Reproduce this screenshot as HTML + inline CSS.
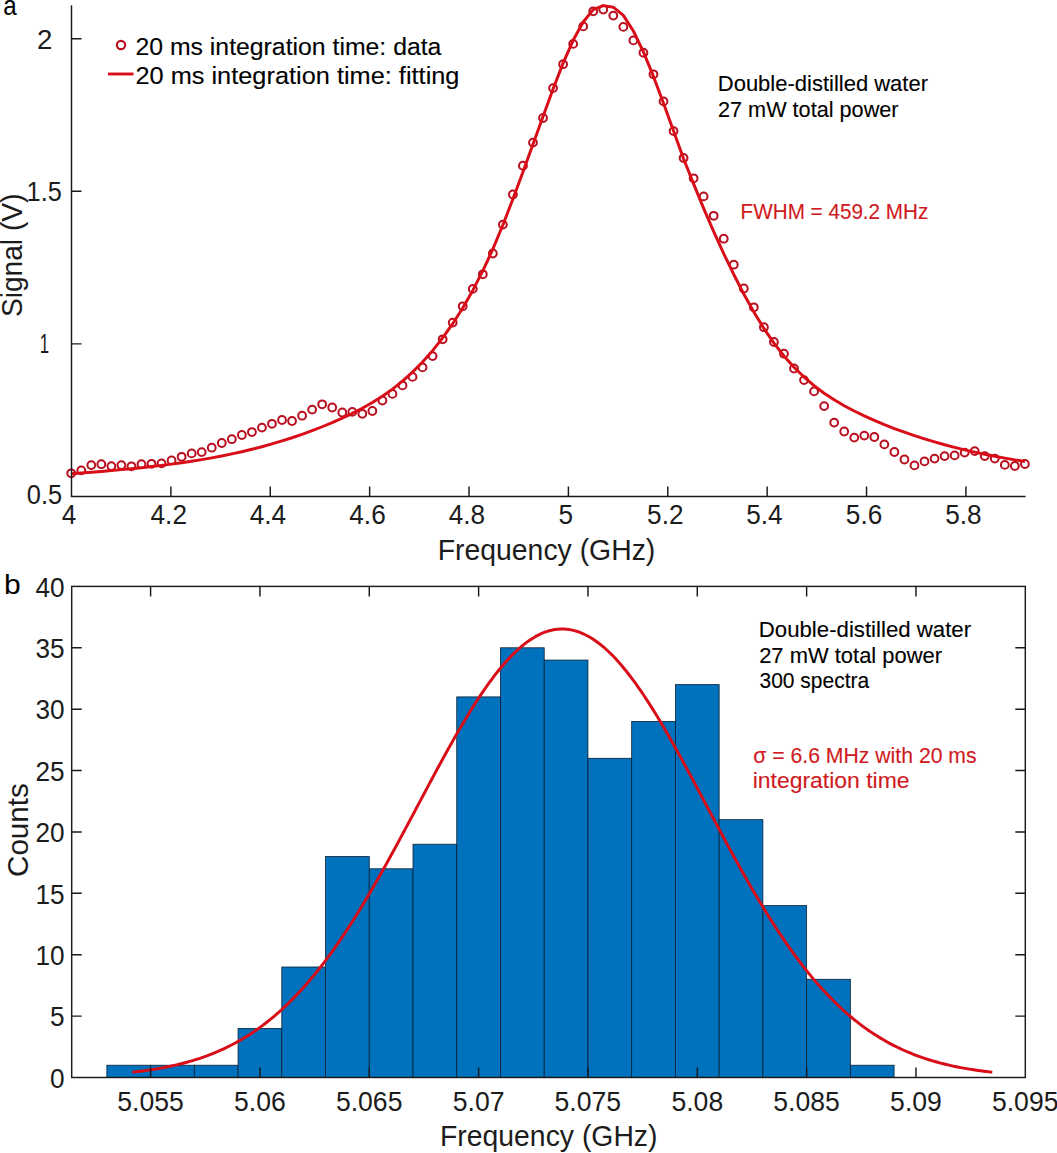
<!DOCTYPE html>
<html><head><meta charset="utf-8"><style>
html,body{margin:0;padding:0;background:#fff;}
svg{display:block;}
text{font-family:"Liberation Sans",sans-serif;}
</style></head><body>
<svg width="1057" height="1153" viewBox="0 0 1057 1153">
<rect width="1057" height="1153" fill="#fff"/>
<g fill="none" stroke="#B80E1E" stroke-width="2.0"><circle cx="71.20" cy="473.30" r="3.9"/><circle cx="81.24" cy="470.40" r="3.9"/><circle cx="91.28" cy="465.10" r="3.9"/><circle cx="101.32" cy="464.20" r="3.9"/><circle cx="111.36" cy="466.10" r="3.9"/><circle cx="121.39" cy="465.10" r="3.9"/><circle cx="131.43" cy="466.30" r="3.9"/><circle cx="141.47" cy="464.20" r="3.9"/><circle cx="151.51" cy="463.80" r="3.9"/><circle cx="161.55" cy="463.40" r="3.9"/><circle cx="171.59" cy="460.40" r="3.9"/><circle cx="181.63" cy="456.80" r="3.9"/><circle cx="191.67" cy="453.40" r="3.9"/><circle cx="201.71" cy="452.10" r="3.9"/><circle cx="211.75" cy="447.70" r="3.9"/><circle cx="221.78" cy="443.00" r="3.9"/><circle cx="231.82" cy="439.20" r="3.9"/><circle cx="241.86" cy="435.00" r="3.9"/><circle cx="251.90" cy="432.05" r="3.9"/><circle cx="261.94" cy="427.60" r="3.9"/><circle cx="271.98" cy="423.80" r="3.9"/><circle cx="282.02" cy="420.00" r="3.9"/><circle cx="292.06" cy="421.00" r="3.9"/><circle cx="302.10" cy="415.70" r="3.9"/><circle cx="312.13" cy="409.60" r="3.9"/><circle cx="322.17" cy="404.30" r="3.9"/><circle cx="332.21" cy="407.50" r="3.9"/><circle cx="342.25" cy="412.50" r="3.9"/><circle cx="352.29" cy="411.90" r="3.9"/><circle cx="362.33" cy="413.80" r="3.9"/><circle cx="372.37" cy="411.00" r="3.9"/><circle cx="382.41" cy="400.50" r="3.9"/><circle cx="392.45" cy="393.90" r="3.9"/><circle cx="402.49" cy="385.40" r="3.9"/><circle cx="412.52" cy="376.90" r="3.9"/><circle cx="422.56" cy="367.40" r="3.9"/><circle cx="432.60" cy="356.10" r="3.9"/><circle cx="442.64" cy="339.30" r="3.9"/><circle cx="452.68" cy="322.60" r="3.9"/><circle cx="462.72" cy="306.30" r="3.9"/><circle cx="472.76" cy="288.90" r="3.9"/><circle cx="482.80" cy="274.30" r="3.9"/><circle cx="492.84" cy="253.50" r="3.9"/><circle cx="502.87" cy="224.60" r="3.9"/><circle cx="512.91" cy="194.50" r="3.9"/><circle cx="522.95" cy="165.70" r="3.9"/><circle cx="532.99" cy="142.60" r="3.9"/><circle cx="543.03" cy="118.00" r="3.9"/><circle cx="553.07" cy="88.10" r="3.9"/><circle cx="563.11" cy="64.20" r="3.9"/><circle cx="573.15" cy="43.90" r="3.9"/><circle cx="583.19" cy="26.40" r="3.9"/><circle cx="593.23" cy="11.30" r="3.9"/><circle cx="603.26" cy="9.50" r="3.9"/><circle cx="613.30" cy="15.60" r="3.9"/><circle cx="623.34" cy="26.90" r="3.9"/><circle cx="633.38" cy="40.40" r="3.9"/><circle cx="643.42" cy="52.70" r="3.9"/><circle cx="653.46" cy="74.30" r="3.9"/><circle cx="663.50" cy="101.40" r="3.9"/><circle cx="673.54" cy="131.10" r="3.9"/><circle cx="683.58" cy="158.00" r="3.9"/><circle cx="693.61" cy="178.30" r="3.9"/><circle cx="703.65" cy="196.40" r="3.9"/><circle cx="713.69" cy="215.80" r="3.9"/><circle cx="723.73" cy="238.70" r="3.9"/><circle cx="733.77" cy="264.70" r="3.9"/><circle cx="743.81" cy="288.50" r="3.9"/><circle cx="753.85" cy="307.30" r="3.9"/><circle cx="763.89" cy="327.20" r="3.9"/><circle cx="773.93" cy="342.00" r="3.9"/><circle cx="783.97" cy="353.70" r="3.9"/><circle cx="794.00" cy="368.50" r="3.9"/><circle cx="804.04" cy="380.10" r="3.9"/><circle cx="814.08" cy="391.40" r="3.9"/><circle cx="824.12" cy="406.10" r="3.9"/><circle cx="834.16" cy="422.60" r="3.9"/><circle cx="844.20" cy="431.50" r="3.9"/><circle cx="854.24" cy="437.60" r="3.9"/><circle cx="864.28" cy="435.60" r="3.9"/><circle cx="874.32" cy="437.00" r="3.9"/><circle cx="884.35" cy="444.40" r="3.9"/><circle cx="894.39" cy="452.00" r="3.9"/><circle cx="904.43" cy="459.50" r="3.9"/><circle cx="914.47" cy="465.40" r="3.9"/><circle cx="924.51" cy="461.40" r="3.9"/><circle cx="934.55" cy="458.60" r="3.9"/><circle cx="944.59" cy="456.10" r="3.9"/><circle cx="954.63" cy="455.40" r="3.9"/><circle cx="964.67" cy="452.60" r="3.9"/><circle cx="974.71" cy="451.10" r="3.9"/><circle cx="984.74" cy="456.10" r="3.9"/><circle cx="994.78" cy="458.60" r="3.9"/><circle cx="1004.82" cy="464.90" r="3.9"/><circle cx="1014.86" cy="466.00" r="3.9"/><circle cx="1024.90" cy="464.00" r="3.9"/></g>
<polyline points="71.20,473.81 81.24,473.03 91.28,472.23 101.32,471.41 111.36,470.56 121.39,469.65 131.43,468.70 141.47,467.68 151.51,466.58 161.55,465.40 171.59,464.13 181.63,462.75 191.67,461.25 201.71,459.63 211.75,457.88 221.78,455.98 231.82,453.92 241.86,451.70 251.90,449.30 261.94,446.72 271.98,443.94 282.02,440.95 292.06,437.75 302.10,434.32 312.13,430.66 322.17,426.75 332.21,422.59 342.25,418.16 352.29,413.42 362.33,408.26 372.37,402.57 382.41,396.22 392.45,389.11 402.49,381.11 412.52,372.11 422.56,361.98 432.60,350.62 442.64,337.91 452.68,323.72 462.72,307.95 472.76,290.44 482.80,270.93 492.84,249.15 502.87,224.99 512.91,199.02 522.95,171.96 532.99,144.36 543.03,116.47 553.07,89.01 563.11,63.15 573.15,40.33 583.19,22.03 593.23,9.64 603.26,5.60 613.30,7.20 623.34,15.34 633.38,30.99 643.42,51.84 653.46,76.43 663.50,103.28 673.54,131.08 683.58,158.78 693.61,183.92 703.65,208.37 713.69,231.59 723.73,253.64 733.77,274.48 743.81,293.99 753.85,312.02 763.89,328.44 773.93,343.12 783.97,355.98 794.00,367.20 804.04,377.02 814.08,385.64 824.12,393.20 834.16,399.85 844.20,405.75 854.24,411.03 864.28,415.86 874.32,420.35 884.35,424.57 894.39,428.53 904.43,432.23 914.47,435.70 924.51,438.93 934.55,441.96 944.59,444.77 954.63,447.40 964.67,449.85 974.71,452.14 984.74,454.27 994.78,456.26 1004.82,458.12 1014.86,459.87 1024.90,461.51" fill="none" stroke="#D80D18" stroke-width="2.95" stroke-linejoin="round"/>
<path d="M71.50,5.2 V496.40 H1025.55" fill="none" stroke="#1a1a1a" stroke-width="1.45"/>
<path d="M170.88,496.4 v-10 M270.26,496.4 v-10 M369.64,496.4 v-10 M469.02,496.4 v-10 M568.40,496.4 v-10 M667.78,496.4 v-10 M767.16,496.4 v-10 M866.54,496.4 v-10 M965.92,496.4 v-10 M71.5,343.85 h10 M71.5,191.30 h10 M71.5,38.75 h10" stroke="#1a1a1a" stroke-width="1.45"/>
<text x="61.85" y="524.00" font-size="27" fill="#1c1c1c" textLength="14.57" lengthAdjust="spacingAndGlyphs">4</text>
<text x="150.56" y="524.00" font-size="27" fill="#1c1c1c" textLength="36.41" lengthAdjust="spacingAndGlyphs">4.2</text>
<text x="249.69" y="524.00" font-size="27" fill="#1c1c1c" textLength="36.41" lengthAdjust="spacingAndGlyphs">4.4</text>
<text x="349.32" y="524.00" font-size="27" fill="#1c1c1c" textLength="36.41" lengthAdjust="spacingAndGlyphs">4.6</text>
<text x="448.70" y="524.00" font-size="27" fill="#1c1c1c" textLength="36.41" lengthAdjust="spacingAndGlyphs">4.8</text>
<text x="558.50" y="524.00" font-size="27" fill="#1c1c1c" textLength="14.57" lengthAdjust="spacingAndGlyphs">5</text>
<text x="647.09" y="524.00" font-size="27" fill="#1c1c1c" textLength="36.41" lengthAdjust="spacingAndGlyphs">5.2</text>
<text x="746.23" y="524.00" font-size="27" fill="#1c1c1c" textLength="36.41" lengthAdjust="spacingAndGlyphs">5.4</text>
<text x="845.85" y="524.00" font-size="27" fill="#1c1c1c" textLength="36.41" lengthAdjust="spacingAndGlyphs">5.6</text>
<text x="945.23" y="524.00" font-size="27" fill="#1c1c1c" textLength="36.41" lengthAdjust="spacingAndGlyphs">5.8</text>
<text x="26.86" y="504.30" font-size="27" fill="#1c1c1c" textLength="35.31" lengthAdjust="spacingAndGlyphs">0.5</text>
<text x="26.62" y="201.20" font-size="27" fill="#1c1c1c" textLength="35.25" lengthAdjust="spacingAndGlyphs">1.5</text>
<text x="39.76" y="352.90" font-size="27" fill="#1c1c1c" textLength="9.33" lengthAdjust="spacingAndGlyphs">1</text>
<text x="37.02" y="48.90" font-size="27" fill="#1c1c1c" textLength="15.38" lengthAdjust="spacingAndGlyphs">2</text>
<text x="437.72" y="559.90" font-size="29.7" fill="#1c1c1c" textLength="217.59" lengthAdjust="spacingAndGlyphs">Frequency (GHz)</text>
<text transform="translate(21.60,317.12) rotate(-90)" x="0" y="0" font-size="29.7" fill="#1c1c1c" textLength="123.59" lengthAdjust="spacingAndGlyphs">Signal (V)</text>
<text x="3.32" y="14.60" font-size="28" fill="#000" textLength="13.44" lengthAdjust="spacingAndGlyphs">a</text>
<circle cx="121" cy="45.0" r="4.15" fill="none" stroke="#B80E1E" stroke-width="2.1"/>
<line x1="108" y1="74" x2="133.5" y2="74" stroke="#D80D18" stroke-width="2.9"/>
<text x="135.44" y="54.60" font-size="24.6" fill="#000" stroke="#000" stroke-width="0.12" textLength="305.95" lengthAdjust="spacingAndGlyphs">20 ms integration time: data</text>
<text x="135.41" y="83.50" font-size="24.6" fill="#000" stroke="#000" stroke-width="0.12" textLength="324.06" lengthAdjust="spacingAndGlyphs">20 ms integration time: fitting</text>
<text x="717.79" y="91.00" font-size="21.2" fill="#000" stroke="#000" stroke-width="0.12" textLength="210.22" lengthAdjust="spacingAndGlyphs">Double-distilled water</text>
<text x="717.98" y="116.70" font-size="21.2" fill="#000" stroke="#000" stroke-width="0.12" textLength="180.61" lengthAdjust="spacingAndGlyphs">27 mW total power</text>
<text x="740.60" y="218.60" font-size="21.2" fill="#D01A22" stroke="#D01A22" stroke-width="0.12" textLength="187.72" lengthAdjust="spacingAndGlyphs">FWHM = 459.2 MHz</text>
<g fill="#0072BD" stroke="#0a1f33" stroke-width="0.8"><rect x="106.87" y="1065.22" width="43.73" height="12.28"/><rect x="150.60" y="1065.22" width="43.73" height="12.28"/><rect x="194.33" y="1065.22" width="43.73" height="12.28"/><rect x="238.07" y="1028.39" width="43.73" height="49.11"/><rect x="281.81" y="967.00" width="43.73" height="110.50"/><rect x="325.54" y="856.50" width="43.73" height="221.00"/><rect x="369.27" y="868.78" width="43.73" height="208.72"/><rect x="413.01" y="844.23" width="43.73" height="233.27"/><rect x="456.75" y="696.90" width="43.73" height="380.60"/><rect x="500.48" y="647.79" width="43.73" height="429.71"/><rect x="544.21" y="660.07" width="43.73" height="417.43"/><rect x="587.95" y="758.29" width="43.73" height="319.21"/><rect x="631.69" y="721.45" width="43.73" height="356.05"/><rect x="675.42" y="684.62" width="43.73" height="392.88"/><rect x="719.15" y="819.67" width="43.73" height="257.83"/><rect x="762.89" y="905.62" width="43.73" height="171.88"/><rect x="806.63" y="979.28" width="43.73" height="98.22"/><rect x="850.36" y="1065.22" width="43.73" height="12.28"/></g>
<polyline points="132.23,1072.19 135.11,1071.87 137.98,1071.53 140.86,1071.17 143.74,1070.79 146.61,1070.39 149.49,1069.97 152.37,1069.53 155.24,1069.07 158.12,1068.59 161.00,1068.08 163.87,1067.54 166.75,1066.98 169.62,1066.39 172.50,1065.78 175.38,1065.13 178.25,1064.46 181.13,1063.75 184.01,1063.01 186.88,1062.23 189.76,1061.43 192.64,1060.58 195.51,1059.70 198.39,1058.78 201.27,1057.82 204.14,1056.82 207.02,1055.77 209.89,1054.68 212.77,1053.55 215.65,1052.37 218.52,1051.15 221.40,1049.87 224.28,1048.55 227.15,1047.17 230.03,1045.74 232.91,1044.26 235.78,1042.72 238.66,1041.12 241.54,1039.47 244.41,1037.75 247.29,1035.98 250.16,1034.14 253.04,1032.24 255.92,1030.28 258.79,1028.25 261.67,1026.15 264.55,1023.98 267.42,1021.75 270.30,1019.45 273.18,1017.07 276.05,1014.62 278.93,1012.10 281.81,1009.51 284.68,1006.84 287.56,1004.09 290.43,1001.27 293.31,998.37 296.19,995.40 299.06,992.34 301.94,989.21 304.82,986.00 307.69,982.70 310.57,979.33 313.45,975.88 316.32,972.35 319.20,968.75 322.07,965.06 324.95,961.29 327.83,957.44 330.70,953.52 333.58,949.52 336.46,945.44 339.33,941.29 342.21,937.06 345.09,932.76 347.96,928.38 350.84,923.94 353.72,919.42 356.59,914.84 359.47,910.19 362.34,905.47 365.22,900.70 368.10,895.86 370.97,890.96 373.85,886.01 376.73,881.01 379.60,875.95 382.48,870.85 385.36,865.70 388.23,860.50 391.11,855.27 393.99,850.01 396.86,844.71 399.74,839.38 402.61,834.03 405.49,828.66 408.37,823.27 411.24,817.86 414.12,812.45 417.00,807.03 419.87,801.61 422.75,796.19 425.63,790.78 428.50,785.38 431.38,780.00 434.26,774.63 437.13,769.30 440.01,763.99 442.88,758.73 445.76,753.50 448.64,748.31 451.51,743.18 454.39,738.10 457.27,733.08 460.14,728.12 463.02,723.24 465.90,718.43 468.77,713.70 471.65,709.05 474.52,704.49 477.40,700.02 480.28,695.65 483.15,691.39 486.03,687.23 488.91,683.19 491.78,679.26 494.66,675.45 497.54,671.77 500.41,668.21 503.29,664.79 506.17,661.50 509.04,658.36 511.92,655.36 514.79,652.50 517.67,649.80 520.55,647.25 523.42,644.86 526.30,642.62 529.18,640.55 532.05,638.65 534.93,636.91 537.81,635.34 540.68,633.94 543.56,632.71 546.44,631.65 549.31,630.77 552.19,630.07 555.06,629.54 557.94,629.19 560.82,629.02 563.69,629.03 566.57,629.21 569.45,629.58 572.32,630.12 575.20,630.83 578.08,631.73 580.95,632.79 583.83,634.04 586.71,635.45 589.58,637.03 592.46,638.79 595.33,640.71 598.21,642.79 601.09,645.03 603.96,647.44 606.84,650.00 609.72,652.72 612.59,655.58 615.47,658.59 618.35,661.75 621.22,665.04 624.10,668.48 626.98,672.04 629.85,675.73 632.73,679.55 635.60,683.49 638.48,687.54 641.36,691.71 644.23,695.98 647.11,700.36 649.99,704.83 652.86,709.40 655.74,714.05 658.62,718.79 661.49,723.61 664.37,728.50 667.24,733.46 670.12,738.48 673.00,743.57 675.87,748.71 678.75,753.89 681.63,759.13 684.50,764.40 687.38,769.70 690.26,775.04 693.13,780.40 696.01,785.79 698.89,791.19 701.76,796.60 704.64,802.02 707.51,807.44 710.39,812.86 713.27,818.27 716.14,823.68 719.02,829.07 721.90,834.44 724.77,839.79 727.65,845.11 730.53,850.41 733.40,855.67 736.28,860.90 739.16,866.09 742.03,871.23 744.91,876.34 747.78,881.39 750.66,886.39 753.54,891.34 756.41,896.23 759.29,901.06 762.17,905.83 765.04,910.54 767.92,915.19 770.80,919.77 773.67,924.28 776.55,928.72 779.43,933.09 782.30,937.38 785.18,941.61 788.05,945.75 790.93,949.83 793.81,953.82 796.68,957.74 799.56,961.58 802.44,965.34 805.31,969.02 808.19,972.63 811.07,976.15 813.94,979.59 816.82,982.96 819.70,986.24 822.57,989.45 825.45,992.58 828.32,995.62 831.20,998.59 834.08,1001.49 836.95,1004.30 839.83,1007.04 842.71,1009.71 845.58,1012.30 848.46,1014.81 851.34,1017.25 854.21,1019.62 857.09,1021.92 859.96,1024.15 862.84,1026.31 865.72,1028.40 868.59,1030.43 871.47,1032.39 874.35,1034.28 877.22,1036.11 880.10,1037.88 882.98,1039.59 885.85,1041.24 888.73,1042.84 891.61,1044.37 894.48,1045.85 897.36,1047.28 900.23,1048.65 903.11,1049.97 905.99,1051.24 908.86,1052.46 911.74,1053.64 914.62,1054.77 917.49,1055.85 920.37,1056.89 923.25,1057.89 926.12,1058.85 929.00,1059.77 931.88,1060.65 934.75,1061.49 937.63,1062.29 940.50,1063.07 943.38,1063.80 946.26,1064.51 949.13,1065.18 952.01,1065.83 954.89,1066.44 957.76,1067.03 960.64,1067.58 963.52,1068.12 966.39,1068.62 969.27,1069.11 972.15,1069.57 975.02,1070.01 977.90,1070.42 980.77,1070.82 983.65,1071.20 986.53,1071.55 989.40,1071.89 992.28,1072.22" fill="none" stroke="#D80D18" stroke-width="2.95" stroke-linejoin="round"/>
<rect x="71.7" y="586.4" width="953.60" height="491.10" fill="none" stroke="#1a1a1a" stroke-width="1.45"/>
<path d="M150.60,1077.5 v-10 M150.60,586.4 v10 M259.94,1077.5 v-10 M259.94,586.4 v10 M369.28,1077.5 v-10 M369.28,586.4 v10 M478.61,1077.5 v-10 M478.61,586.4 v10 M587.95,1077.5 v-10 M587.95,586.4 v10 M697.29,1077.5 v-10 M697.29,586.4 v10 M806.63,1077.5 v-10 M806.63,586.4 v10 M915.96,1077.5 v-10 M915.96,586.4 v10 M71.7,1016.11 h10 M1025.3,1016.11 h-10 M71.7,954.73 h10 M1025.3,954.73 h-10 M71.7,893.34 h10 M1025.3,893.34 h-10 M71.7,831.95 h10 M1025.3,831.95 h-10 M71.7,770.56 h10 M1025.3,770.56 h-10 M71.7,709.17 h10 M1025.3,709.17 h-10 M71.7,647.79 h10 M1025.3,647.79 h-10" stroke="#1a1a1a" stroke-width="1.45"/>
<text x="117.23" y="1110.50" font-size="27" fill="#1c1c1c" textLength="66.55" lengthAdjust="spacingAndGlyphs">5.055</text>
<text x="234.08" y="1110.50" font-size="27" fill="#1c1c1c" textLength="51.76" lengthAdjust="spacingAndGlyphs">5.06</text>
<text x="335.91" y="1110.50" font-size="27" fill="#1c1c1c" textLength="66.55" lengthAdjust="spacingAndGlyphs">5.065</text>
<text x="452.76" y="1110.50" font-size="27" fill="#1c1c1c" textLength="51.76" lengthAdjust="spacingAndGlyphs">5.07</text>
<text x="554.58" y="1110.50" font-size="27" fill="#1c1c1c" textLength="66.55" lengthAdjust="spacingAndGlyphs">5.075</text>
<text x="671.43" y="1110.50" font-size="27" fill="#1c1c1c" textLength="51.76" lengthAdjust="spacingAndGlyphs">5.08</text>
<text x="773.26" y="1110.50" font-size="27" fill="#1c1c1c" textLength="66.55" lengthAdjust="spacingAndGlyphs">5.085</text>
<text x="890.11" y="1110.50" font-size="27" fill="#1c1c1c" textLength="51.76" lengthAdjust="spacingAndGlyphs">5.09</text>
<text x="991.93" y="1110.50" font-size="27" fill="#1c1c1c" textLength="66.55" lengthAdjust="spacingAndGlyphs">5.095</text>
<text x="50.02" y="1087.80" font-size="27" fill="#1c1c1c" textLength="14.57" lengthAdjust="spacingAndGlyphs">0</text>
<text x="50.02" y="1026.41" font-size="27" fill="#1c1c1c" textLength="14.57" lengthAdjust="spacingAndGlyphs">5</text>
<text x="35.47" y="965.02" font-size="27" fill="#1c1c1c" textLength="29.13" lengthAdjust="spacingAndGlyphs">10</text>
<text x="35.47" y="903.64" font-size="27" fill="#1c1c1c" textLength="29.13" lengthAdjust="spacingAndGlyphs">15</text>
<text x="35.47" y="842.25" font-size="27" fill="#1c1c1c" textLength="29.13" lengthAdjust="spacingAndGlyphs">20</text>
<text x="35.47" y="780.86" font-size="27" fill="#1c1c1c" textLength="29.13" lengthAdjust="spacingAndGlyphs">25</text>
<text x="35.47" y="719.47" font-size="27" fill="#1c1c1c" textLength="29.13" lengthAdjust="spacingAndGlyphs">30</text>
<text x="35.47" y="658.09" font-size="27" fill="#1c1c1c" textLength="29.13" lengthAdjust="spacingAndGlyphs">35</text>
<text x="35.47" y="596.70" font-size="27" fill="#1c1c1c" textLength="29.13" lengthAdjust="spacingAndGlyphs">40</text>
<text x="440.02" y="1145.90" font-size="29.7" fill="#1c1c1c" textLength="217.49" lengthAdjust="spacingAndGlyphs">Frequency (GHz)</text>
<text transform="translate(27.80,876.89) rotate(-90)" x="0" y="0" font-size="29.7" fill="#1c1c1c" textLength="93.60" lengthAdjust="spacingAndGlyphs">Counts</text>
<text x="4.12" y="594.00" font-size="28" fill="#000" textLength="16.73" lengthAdjust="spacingAndGlyphs">b</text>
<text x="758.77" y="636.80" font-size="21.2" fill="#000" stroke="#000" stroke-width="0.12" textLength="212.34" lengthAdjust="spacingAndGlyphs">Double-distilled water</text>
<text x="759.17" y="662.50" font-size="21.2" fill="#000" stroke="#000" stroke-width="0.12" textLength="182.93" lengthAdjust="spacingAndGlyphs">27 mW total power</text>
<text x="759.46" y="688.20" font-size="21.2" fill="#000" stroke="#000" stroke-width="0.12" textLength="109.77" lengthAdjust="spacingAndGlyphs">300 spectra</text>
<text x="753.30" y="763.00" font-size="21.2" fill="#D01A22" stroke="#D01A22" stroke-width="0.12" textLength="223.30" lengthAdjust="spacingAndGlyphs">σ = 6.6 MHz with 20 ms</text>
<text x="752.68" y="788.40" font-size="21.2" fill="#D01A22" stroke="#D01A22" stroke-width="0.12" textLength="156.93" lengthAdjust="spacingAndGlyphs">integration time</text>
</svg></body></html>
